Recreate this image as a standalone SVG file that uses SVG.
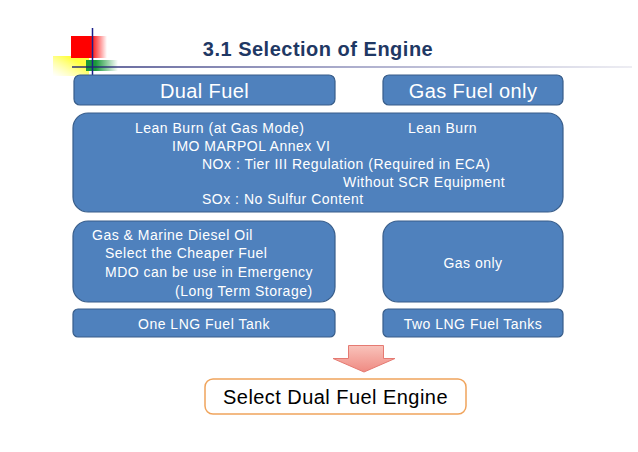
<svg xmlns="http://www.w3.org/2000/svg" width="638" height="452" viewBox="0 0 638 452">
<defs>
<linearGradient id="redG" x1="0" y1="0" x2="1" y2="0"><stop offset="0.55" stop-color="#ff0000"/><stop offset="1" stop-color="#ff0000" stop-opacity="0"/></linearGradient>
<linearGradient id="yelG" x1="1" y1="0" x2="0" y2="1"><stop offset="0.3" stop-color="#ffff40"/><stop offset="1" stop-color="#ffff80" stop-opacity="0"/></linearGradient>
<linearGradient id="grnG" x1="0" y1="0" x2="1" y2="0"><stop offset="0.3" stop-color="#1a9a3a"/><stop offset="1" stop-color="#1a9a3a" stop-opacity="0"/></linearGradient>
<linearGradient id="lineG" x1="0" y1="0" x2="1" y2="0"><stop offset="0" stop-color="#1a1f6e"/><stop offset="0.5" stop-color="#8a8cb8"/><stop offset="1" stop-color="#e6e6ee"/></linearGradient>
<linearGradient id="arrG" x1="0" y1="0" x2="0" y2="1"><stop offset="0" stop-color="#f9c3bb"/><stop offset="1" stop-color="#ef8a82"/></linearGradient>
<style>
.box{fill:#4f81bd;stroke:#385d8a;stroke-width:1.2}
.t{font-family:"Liberation Sans",Arial,sans-serif;fill:#ffffff}
.big{font-size:20px;letter-spacing:0.4px}
.sm{font-size:14px;letter-spacing:0.5px}
</style>
</defs>
<g id="logo">
<rect x="53" y="56" width="36" height="20" fill="url(#yelG)"/>
<rect x="71" y="36" width="36" height="22" fill="url(#redG)"/>
<rect x="86" y="60" width="32" height="11" fill="url(#grnG)"/>
<line x1="92.5" y1="28" x2="92.5" y2="76" stroke="#1a1f8a" stroke-width="1.5"/>
<rect x="72" y="66.3" width="560" height="1.4" fill="url(#lineG)"/>
</g>
<text x="318" y="56" text-anchor="middle" font-family="'Liberation Sans',Arial,sans-serif" font-weight="bold" font-size="20" letter-spacing="0.5" fill="#1f3864">3.1 Selection of Engine</text>
<g id="dual-fuel"><rect class="box" x="74" y="75" width="261" height="30" rx="6"/><text class="t big" x="204.5" y="97.5" text-anchor="middle">Dual Fuel</text></g>
<g id="gas-fuel-only"><rect class="box" x="383" y="75" width="180" height="30" rx="6"/><text class="t big" x="473" y="97.5" text-anchor="middle">Gas Fuel only</text></g>
<g id="emissions"><rect class="box" x="73" y="113" width="490" height="99" rx="15"/>
<text class="t sm" x="135" y="133">Lean Burn (at Gas Mode)</text>
<text class="t sm" x="408" y="133">Lean Burn</text>
<text class="t sm" x="172" y="151">IMO MARPOL Annex VI</text>
<text class="t sm" x="202" y="169">NOx : Tier III Regulation (Required in ECA)</text>
<text class="t sm" x="343" y="187">Without SCR Equipment</text>
<text class="t sm" x="202" y="204">SOx : No Sulfur Content</text>
</g>
<g id="fuel-dual"><rect class="box" x="73" y="221" width="262" height="81" rx="15"/>
<text class="t sm" x="92" y="240">Gas &amp; Marine Diesel Oil</text>
<text class="t sm" x="105" y="258">Select the Cheaper Fuel</text>
<text class="t sm" x="105" y="277">MDO can be use in Emergency</text>
<text class="t sm" x="175" y="296">(Long Term Storage)</text>
</g>
<g id="fuel-gas"><rect class="box" x="383" y="221" width="180" height="81" rx="15"/>
<text class="t sm" x="473" y="268" text-anchor="middle">Gas only</text></g>
<g id="tank-one"><rect class="box" x="73" y="309" width="262" height="28" rx="5"/>
<text class="t sm" x="204" y="329" text-anchor="middle">One LNG Fuel Tank</text></g>
<g id="tank-two"><rect class="box" x="383" y="309" width="180" height="28" rx="5"/>
<text class="t sm" x="473" y="329" text-anchor="middle">Two LNG Fuel Tanks</text></g>
<g id="connectors">
<path d="M348.5 345.5 H383.5 V358.5 H395 L364 372 L333 358.5 H348.5 Z" fill="url(#arrG)" stroke="#e57a72" stroke-width="1"/>
</g>
<g id="result"><rect x="205" y="379" width="261" height="35" rx="8" fill="#ffffff" stroke="#f0a45c" stroke-width="1.5"/>
<text x="335.5" y="404" text-anchor="middle" font-family="'Liberation Sans',Arial,sans-serif" font-size="20" letter-spacing="0.45" fill="#000000">Select Dual Fuel Engine</text></g>
</svg>
